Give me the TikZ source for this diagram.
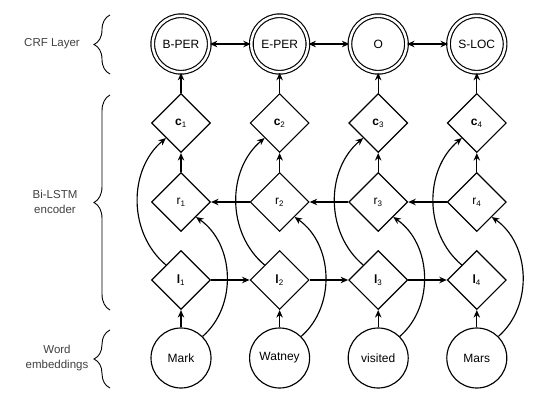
\documentclass[tikz,border=0pt]{standalone}
\usepackage{fontspec}
\setmainfont{Liberation Sans}
\usetikzlibrary{shapes.geometric,arrows.meta,decorations.pathreplacing}

\tikzset{
  tag/.style={circle, draw, double, double distance=2.5pt, minimum size=56.5pt, inner sep=0pt},
  word/.style={circle, draw, minimum size=60pt, inner sep=0pt},
  cell/.style={diamond, draw, minimum size=59pt, inner sep=0pt},
  link/.style={-{Stealth[length=7.5pt,width=6.5pt]}},
  layer/.style={align=center, text=black!75, font=\fontsize{11.5}{15}\selectfont},
  span/.style={decorate, decoration={brace, amplitude=16pt}, line width=0.9pt},
}

\begin{document}
\begin{tikzpicture}[x=1pt, y=-1pt, line width=1.15pt, font=\fontsize{12}{14}\selectfont]
    \useasboundingbox (0,0) rectangle (560,402);
    % one column per word
    \foreach \tagname/\wordname [count=\i] in {B-PER/Mark, E-PER/Watney, O/visited, S-LOC/Mars} {
        \pgfmathsetmacro{\cx}{181+98.6*(\i-1)}
        \node[tag]  (t\i) at (\cx,44)  {\tagname};
        \node[cell] (c\i) at (\cx,123) {\textbf{c}\textsubscript{\i}};
        \node[cell] (r\i) at (\cx,202) {r\textsubscript{\i}};
        \node[cell] (l\i) at (\cx,280) {\textbf{l}\textsubscript{\i}};
        \node[word] (w\i) at (\cx,358) {\wordname};
        \draw[link] (w\i) -- (l\i);
        \draw[link] (r\i) -- (c\i);
        \draw[link] (c\i) -- (t\i);
        \draw[link] (l\i.north west) to[bend left=50] (c\i.south west);
        \draw[link] (w\i.north east) to[bend right=52] (r\i.south east);
    }
    % links between columns
    \foreach \i [evaluate=\i as \j using int(\i+1)] in {1,2,3} {
        \draw[{Stealth[length=7.5pt,width=6.5pt]}-{Stealth[length=7.5pt,width=6.5pt]}] (t\i) -- (t\j);
        \draw[link] (l\i) -- (l\j);
        \draw[link] (r\j) -- (r\i);
    }
    % layer labels
    \node[layer] (crf)  at (52,44)  {CRF Layer};
    \node[layer] (lstm) at (55,202) {Bi-LSTM\\encoder};
    \node[layer] (emb)  at (57,358) {Word\\embeddings};
    \draw[span] (110,74) -- (110,15);
    \draw[span] (110,310) -- (110,95);
    \draw[span] (110,388) -- (110,330);
\end{tikzpicture}
\end{document}
